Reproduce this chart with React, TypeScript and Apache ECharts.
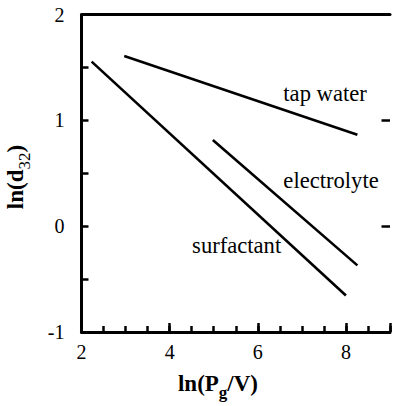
import React, { useEffect, useRef } from "react";
import * as echarts from "echarts";

const tapWaterX = [2.97, 8.26];
const tapWaterY = [1.61, 0.865];
const electrolyteX = [4.98, 8.26];
const electrolyteY = [0.816, -0.37];
const surfactantX = [2.23, 8.0];
const surfactantY = [1.556, -0.655];

const labelNames = ["tap water", "electrolyte", "surfactant"];
const labelX = [6.58, 6.58, 4.51];
const labelY = [1.255, 0.43, -0.18];

const FONT = "Liberation Serif, serif";

const pairs = (xs: number[], ys: number[]) => xs.map((x, i) => [x, ys[i]]);

export default function App() {
  const ref = useRef<HTMLDivElement>(null);
  useEffect(() => {
    if (!ref.current) return;
    const chart = echarts.init(ref.current, undefined, { renderer: "svg" });
    const lineStyle = { color: "#000", width: 2.6 };
    const mk = (i: number) => ({
      symbol: "circle",
      symbolSize: 0,
      data: [
        {
          coord: [labelX[i], labelY[i]],
          label: {
            show: true,
            formatter: labelNames[i],
            position: [0, 0],
            align: "left",
            verticalAlign: "middle",
            color: "#000",
            fontFamily: FONT,
            fontSize: 22.6,
          },
        },
      ],
    });
    const mkSeries = (name: string, xs: number[], ys: number[], i: number) => ({
      type: "line",
      name,
      data: pairs(xs, ys),
      showSymbol: false,
      symbol: "none",
      lineStyle,
      xAxisIndex: 0,
      yAxisIndex: 0,
      silent: true,
      markPoint: mk(i),
    });
    chart.setOption({
      animation: false,
      textStyle: { fontFamily: FONT },
      grid: { left: 81.5, right: -1.7, top: 14.7, bottom: 74 },
      xAxis: [
        {
          type: "value",
          min: 2,
          max: 9,
          interval: 0.5,
          position: "bottom",
          axisLine: { show: true, onZero: false, lineStyle: { color: "#000", width: 3 } },
          axisTick: { show: true, inside: true, length: 6, lineStyle: { color: "#000", width: 2.5 } },
          axisLabel: {
            color: "#000",
            fontFamily: FONT,
            fontSize: 20,
            margin: 10,
            formatter: (v: number) => (Math.abs(v % 2) < 1e-9 && v < 9 ? String(v) : ""),
          },
          splitLine: { show: false },
        },
        {
          type: "value",
          min: 2,
          max: 9,
          interval: 2,
          position: "bottom",
          axisLine: { show: false, onZero: false },
          axisTick: { show: true, inside: true, length: 9, lineStyle: { color: "#000", width: 2.5 } },
          axisLabel: { show: false },
          splitLine: { show: false },
        },
        {
          type: "value",
          min: 2,
          max: 9,
          position: "top",
          axisLine: { show: true, onZero: false, lineStyle: { color: "#000", width: 3 } },
          axisTick: { show: false },
          axisLabel: { show: false },
          splitLine: { show: false },
        },
      ],
      yAxis: [
        {
          type: "value",
          min: -1,
          max: 2,
          interval: 0.5,
          axisLine: { show: true, onZero: false, lineStyle: { color: "#000", width: 3 } },
          axisTick: { show: true, inside: true, length: 7, lineStyle: { color: "#000", width: 2.5 } },
          axisLabel: {
            color: "#000",
            fontFamily: FONT,
            fontSize: 20,
            margin: 17,
            formatter: (v: number) => (Math.abs(v % 1) < 1e-9 ? String(v) : ""),
          },
          splitLine: { show: false },
        },
        {
          type: "value",
          min: -1,
          max: 2,
          interval: 1,
          axisLine: { show: false, onZero: false },
          axisTick: { show: true, inside: true, length: 8.5, lineStyle: { color: "#000", width: 2.5 } },
          axisLabel: { show: false },
          splitLine: { show: false },
        },
      ],
      graphic: [
        {
          type: "text",
          x: 218,
          y: 386,
          style: {
            text: "{b|ln(P}{s|g}{b|/V)}",
            align: "center",
            verticalAlign: "middle",
            rich: {
              b: { fontFamily: FONT, fontSize: 23, fontWeight: "bold", fill: "#000", verticalAlign: "bottom", padding: [0, 0, 6, 0] },
              s: { fontFamily: FONT, fontSize: 17, fontWeight: "bold", fill: "#000", verticalAlign: "bottom" },
            },
          },
        },
        {
          type: "text",
          x: 18,
          y: 177,
          rotation: Math.PI / 2,
          style: {
            text: "{b|ln(d}{s|32}{b|)}",
            align: "center",
            verticalAlign: "middle",
            rich: {
              b: { fontFamily: FONT, fontSize: 23, fontWeight: "bold", fill: "#000", verticalAlign: "bottom", padding: [0, 0, 6, 0] },
              s: { fontFamily: FONT, fontSize: 17, fill: "#000", verticalAlign: "bottom" },
            },
          },
        },
      ],
      series: [
        mkSeries("tap water", tapWaterX, tapWaterY, 0),
        mkSeries("electrolyte", electrolyteX, electrolyteY, 1),
        mkSeries("surfactant", surfactantX, surfactantY, 2),
      ],
    });
    return () => chart.dispose();
  }, []);
  return (
    <div
      ref={ref}
      style={{ position: "fixed", left: 0, top: 0, width: 393, height: 406, background: "#fff" }}
    />
  );
}
